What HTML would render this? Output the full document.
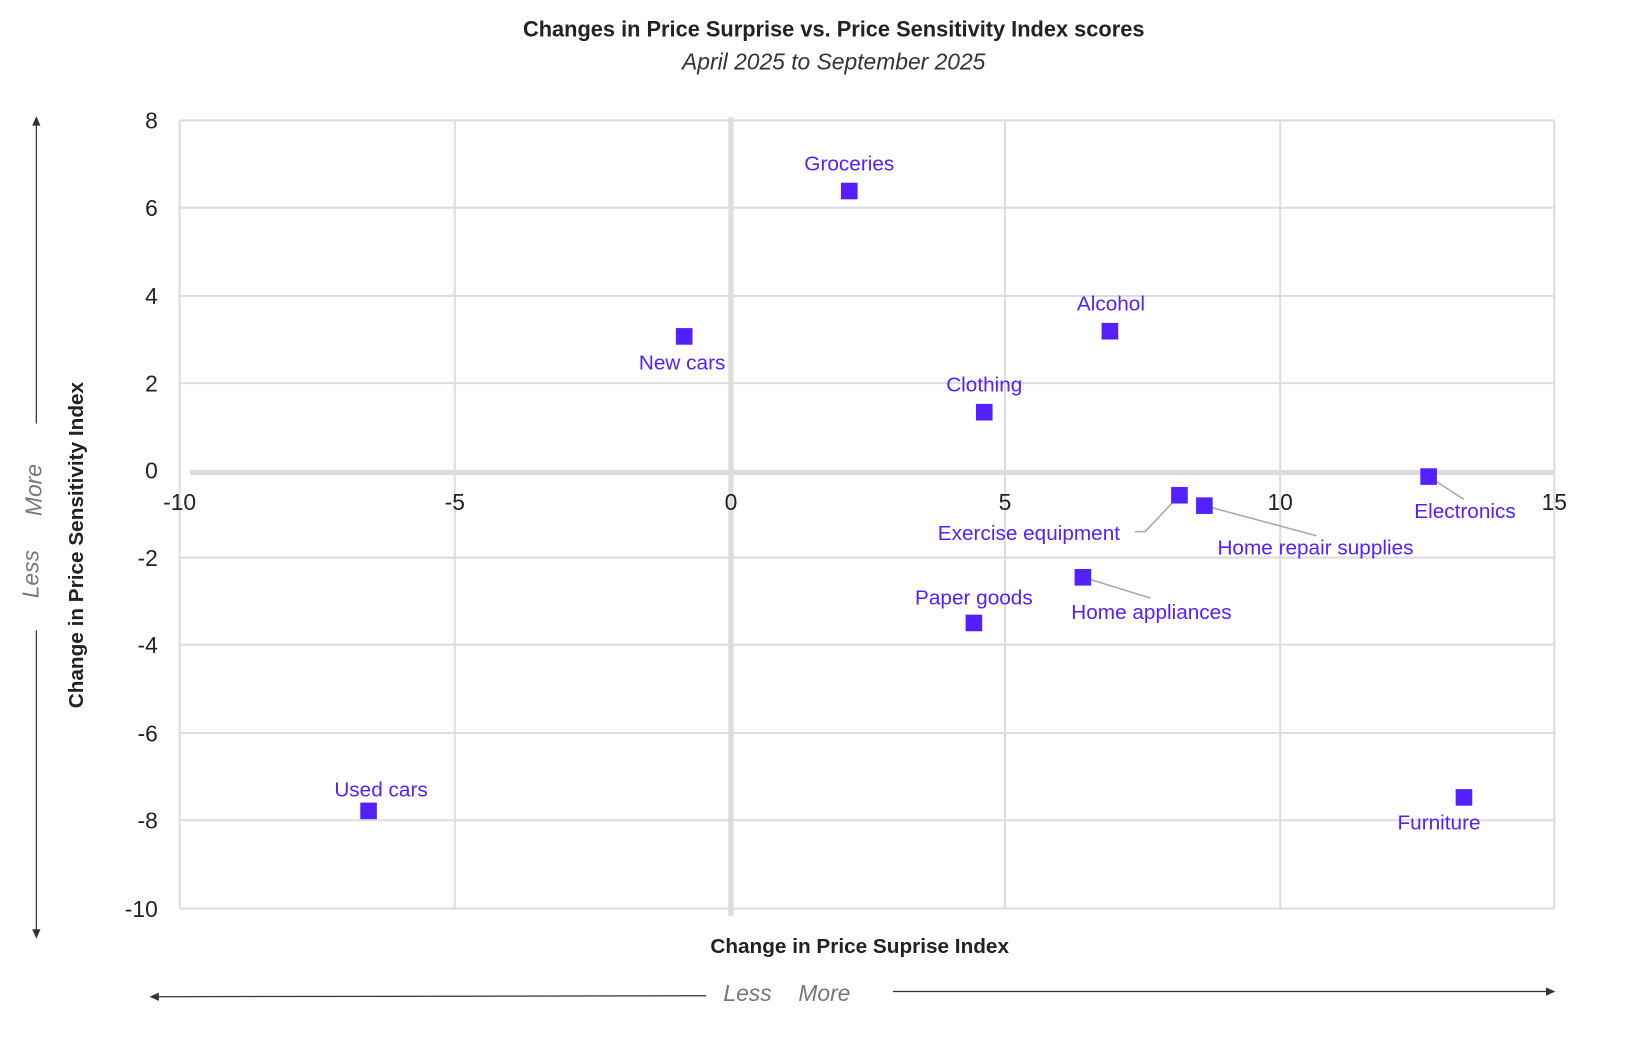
<!DOCTYPE html>
<html><head><meta charset="utf-8"><style>html,body{margin:0;padding:0;background:#fff}svg{display:block}</style></head>
<body>
<svg width="1628" height="1039" viewBox="0 0 1568 1000.7" preserveAspectRatio="none" xmlns="http://www.w3.org/2000/svg" font-family="Liberation Sans, sans-serif">
<text x="803" y="35" text-anchor="middle" font-size="21" font-weight="bold" fill="#222">Changes in Price Surprise vs. Price Sensitivity Index scores</text>
<text x="803" y="67" text-anchor="middle" font-size="22" font-style="italic" fill="#333">April 2025 to September 2025</text>
<g stroke="#ddd" stroke-width="2">
<line x1="173" y1="116" x2="1497" y2="116"/><line x1="173" y1="200" x2="1497" y2="200"/>
<line x1="173" y1="285" x2="1497" y2="285"/><line x1="173" y1="369" x2="1497" y2="369"/>
<line x1="173" y1="537" x2="1497" y2="537"/><line x1="173" y1="621" x2="1497" y2="621"/>
<line x1="173" y1="706" x2="1497" y2="706"/><line x1="173" y1="790" x2="1497" y2="790"/>
<line x1="173" y1="875" x2="1497" y2="875"/>
<line x1="173" y1="116" x2="173" y2="875"/><line x1="438" y1="116" x2="438" y2="875"/>
<line x1="968" y1="116" x2="968" y2="875"/><line x1="1233" y1="116" x2="1233" y2="875"/>
<line x1="1497" y1="116" x2="1497" y2="875"/>
</g>
<line x1="183" y1="455" x2="1497" y2="455" stroke="#ddd" stroke-width="5"/>
<line x1="704" y1="113" x2="704" y2="882" stroke="#ddd" stroke-width="5"/>
<g font-size="22" fill="#222" text-anchor="end">
<text x="152" y="124">8</text><text x="152" y="208">6</text><text x="152" y="293">4</text><text x="152" y="377">2</text><text x="152" y="461">0</text>
<text x="152" y="545">-2</text><text x="152" y="629">-4</text><text x="152" y="714">-6</text><text x="152" y="798">-8</text><text x="152" y="883">-10</text>
</g>
<g font-size="22" fill="#222" text-anchor="middle">
<text x="173" y="491">-10</text><text x="438" y="491">-5</text><text x="704" y="491">0</text><text x="968" y="491">5</text><text x="1233" y="491">10</text><text x="1497" y="491">15</text>
</g>
<text x="828" y="918" text-anchor="middle" font-size="20" font-weight="bold" fill="#222">Change in Price Suprise Index</text>
<text transform="translate(80,525) rotate(-90)" text-anchor="middle" font-size="20" font-weight="bold" fill="#222">Change in Price Sensitivity Index</text>
<g stroke="#333" stroke-width="1.2">
<line x1="35" y1="118" x2="35" y2="408"/><line x1="35" y1="607" x2="35" y2="898"/>
<line x1="150" y1="960" x2="680" y2="959"/><line x1="860" y1="955" x2="1492" y2="955"/>
</g>
<g fill="#333">
<path d="M35 112 L31 121 L39 121Z"/><path d="M35 904 L31 895 L39 895Z"/>
<path d="M144 960 L153 956 L153 964Z"/><path d="M1498 955 L1489 951 L1489 959Z"/>
</g>
<g font-size="22" font-style="italic" fill="#777">
<text x="720" y="964" text-anchor="middle">Less</text><text x="794" y="964" text-anchor="middle">More</text>
<text transform="translate(37,553) rotate(-90)" text-anchor="middle">Less</text>
<text transform="translate(40,472) rotate(-90)" text-anchor="middle">More</text>
</g>
<g stroke="#aaa" stroke-width="1.5" fill="none">
<polyline points="1136,477 1103,512 1093,512"/>
<line x1="1160" y1="487" x2="1268" y2="516"/>
<line x1="1043" y1="556" x2="1108" y2="576"/>
<line x1="1376" y1="459" x2="1410" y2="481"/>
</g>
<g fill="#5520ff">
<rect x="810" y="176" width="16" height="16"/><rect x="651" y="316" width="16" height="16"/>
<rect x="1061" y="311" width="16" height="16"/><rect x="940" y="389" width="16" height="16"/>
<rect x="1368" y="451" width="16" height="16"/><rect x="1128" y="469" width="16" height="16"/>
<rect x="1152" y="479" width="16" height="16"/><rect x="1035" y="548" width="16" height="16"/>
<rect x="930" y="592" width="16" height="16"/><rect x="347" y="773" width="16" height="16"/>
<rect x="1402" y="760" width="16" height="16"/>
</g>
<g font-size="20" fill="#5520ff" text-anchor="middle">
<text x="818" y="164">Groceries</text><text x="657" y="356">New cars</text>
<text x="1070" y="299">Alcohol</text><text x="948" y="377">Clothing</text>
<text x="1411" y="499">Electronics</text><text x="991" y="520">Exercise equipment</text>
<text x="1267" y="534">Home repair supplies</text><text x="1109" y="596">Home appliances</text>
<text x="938" y="582">Paper goods</text><text x="367" y="767">Used cars</text>
<text x="1386" y="799">Furniture</text>
</g>
</svg>
</body></html>
